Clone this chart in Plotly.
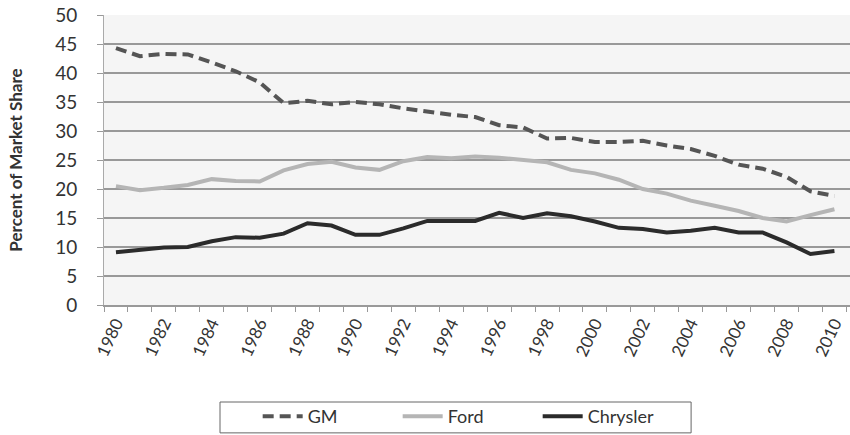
import plotly.graph_objects as go

years = list(range(1980, 2011))
gm = [44.3, 42.9, 43.3, 43.2, 41.8, 40.3, 38.4, 34.8, 35.2, 34.6, 35.0, 34.6, 33.9, 33.3,
      32.8, 32.4, 31.0, 30.6, 28.7, 28.8, 28.1, 28.1, 28.3, 27.5, 26.9, 25.7, 24.2, 23.5,
      22.1, 19.6, 18.8]
ford = [20.5, 19.8, 20.2, 20.7, 21.7, 21.4, 21.3, 23.2, 24.3, 24.7, 23.7, 23.3, 24.8, 25.5,
        25.3, 25.6, 25.4, 25.0, 24.6, 23.3, 22.7, 21.6, 20.0, 19.2, 18.0, 17.1, 16.2, 15.0,
        14.4, 15.5, 16.5]
chrysler = [9.1, 9.5, 9.9, 10.0, 11.0, 11.7, 11.6, 12.3, 14.1, 13.7, 12.1, 12.1, 13.2, 14.5,
            14.5, 14.5, 15.9, 15.0, 15.8, 15.3, 14.4, 13.3, 13.1, 12.5, 12.8, 13.3, 12.5, 12.5,
            10.8, 8.8, 9.3]
tick_years = list(range(1980, 2011, 2))
tick_text = [str(y) for y in tick_years]

fig = go.Figure()
fig.add_trace(go.Scatter(x=years, y=gm, name="GM", mode="lines",
                         line=dict(color="#555555", width=4, dash="11px,6px")))
fig.add_trace(go.Scatter(x=years, y=ford, name="Ford", mode="lines",
                         line=dict(color="#b5b5b5", width=4)))
fig.add_trace(go.Scatter(x=years, y=chrysler, name="Chrysler", mode="lines",
                         line=dict(color="#2b2b2b", width=4)))

# legend frame
fig.add_shape(type="rect", xref="paper", yref="paper",
              x0=0.1555, x1=0.787, y0=-0.441, y1=-0.3345,
              line=dict(color="#666666", width=1), fillcolor="rgba(0,0,0,0)", layer="above")

font = "Lato, 'Open Sans', sans-serif"
fig.update_layout(
    width=850, height=435,
    margin=dict(l=104, r=0, t=15, b=130),
    paper_bgcolor="white",
    plot_bgcolor="#f5f5f5",
    font=dict(family=font, color="#333333"),
    showlegend=True,
    legend=dict(orientation="h", x=0.206, xanchor="left", y=-0.386, yanchor="middle",
                borderwidth=0, bgcolor="rgba(0,0,0,0)",
                font=dict(size=18, color="#333333"), itemwidth=40,
                entrywidth=85, entrywidthmode="pixels"),
    xaxis=dict(range=[1979.5, 2010.65], tickvals=tick_years, ticktext=tick_text,
               tickangle=-65, tickfont=dict(size=17, color="#333333"),
               automargin=False, ticklabeloverflow="allow",
               showgrid=False, ticks="", showline=True, linecolor="#999999", linewidth=1.5,
               minor=dict(tick0=1979.5, dtick=1, ticks="outside", ticklen=5,
                          tickcolor="#999999", showgrid=False),
               zeroline=False),
    yaxis=dict(range=[0, 50], dtick=5, tickfont=dict(size=19, color="#333333"),
               automargin=False, ticklabelstandoff=16, ticklabeloverflow="allow",
               showgrid=True, gridcolor="#999999", gridwidth=1.5,
               ticks="outside", ticklen=6, tickcolor="#999999",
               showline=True, linecolor="#aaaaaa", linewidth=1, zeroline=False,
               title=dict(text="<b>Percent of Market Share</b>", font=dict(size=17, color="#333333"),
                          standoff=28)),
)

fig.write_html("out.html", config={"displayModeBar": False},
               post_script="document.body.style.margin='0';")
